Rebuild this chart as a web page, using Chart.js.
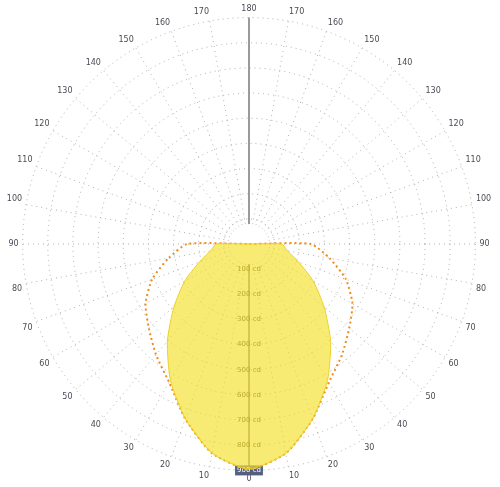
<!DOCTYPE html>
<html>
<head>
<meta charset="utf-8">
<script src="https://cdn.jsdelivr.net/npm/chart.js@4.4.1/dist/chart.umd.min.js"></script>
<style>
  body { margin: 0; background: #fff; }
  #wrap { width: 500px; height: 487px; }
</style>
</head>
<body>
<div id="wrap"><canvas id="polar" width="500" height="487"></canvas></div>
<script>
// angles (gamma) clockwise from the bottom: 0 .. 180 on the left, back to 10 on the right
const angleLabels = ["0", "10", "20", "30", "40", "50", "60", "70", "80", "90",
  "100", "110", "120", "130", "140", "150", "160", "170", "180",
  "170", "160", "150", "140", "130", "120", "110", "100",
  "90", "80", "70", "60", "50", "40", "30", "20", "10"];

// C0 - C180 plane (yellow area), cd
const c0c180 = [895, 845, 740, 625, 505, 390, 295, 210, 155, 130,
  0, 0, 0, 0, 0, 0, 0, 0, 0,
  0, 0, 0, 0, 0, 0, 0, 0,
  130, 155, 210, 295, 390, 505, 625, 740, 845];

// C90 - C270 plane (orange dotted), cd
const c90c270 = [895, 845, 740, 635, 575, 520, 475, 410, 325, 245,
  0, 0, 0, 0, 0, 0, 0, 0, 0,
  0, 0, 0, 0, 0, 0, 0, 0,
  245, 325, 410, 475, 520, 575, 635, 740, 845];

// ring values
const ringMax = 900;
const ringStep = 100;

// white disc in the middle + cd labels down the 0 axis (under the curves)
const centerDisc = {
  id: "centerDisc",
  beforeDatasetsDraw(chart) {
    const s = chart.scales.r;
    const ctx = chart.ctx;
    ctx.save();
    ctx.fillStyle = "#fff";
    ctx.beginPath();
    ctx.arc(s.xCenter, s.yCenter, 20, 0, Math.PI * 2);
    ctx.fill();

    ctx.font = "7px 'DejaVu Sans'";
    ctx.textAlign = "center";
    ctx.textBaseline = "middle";
    const last = s.ticks.length - 1;
    s.ticks.forEach((t, i) => {
      if (t.value === 0) return;
      const y = s.yCenter + s.getDistanceFromCenterForValue(t.value);
      const txt = t.value + " cd";
      if (i === last) {
        const w = ctx.measureText(txt).width;
        ctx.fillStyle = "#56607e";
        ctx.fillRect(s.xCenter - w / 2 - 2, y - 5, w + 4, 10);
        ctx.fillStyle = "#fff";
      } else {
        ctx.fillStyle = "#4a4a3a";
      }
      ctx.fillText(txt, s.xCenter, y);
    });
    ctx.restore();
  }
};

const ctx = document.getElementById("polar").getContext("2d");
new Chart(ctx, {
  type: "radar",
  data: {
    labels: angleLabels,
    datasets: [
      {
        label: "C0 - C180",
        data: c0c180,
        fill: true,
        backgroundColor: "rgba(245, 225, 40, 0.65)",
        borderColor: "rgba(235, 205, 30, 0.9)",
        borderWidth: 1,
        pointRadius: 0,
        tension: 0.2
      },
      {
        label: "C90 - C270",
        data: c90c270,
        fill: false,
        borderColor: "rgba(240, 140, 30, 1)",
        borderWidth: 2,
        borderDash: [2, 3],
        pointRadius: 0,
        tension: 0.2
      }
    ]
  },
  options: {
    responsive: false,
    animation: false,
    layout: { padding: { top: 5, bottom: 2 } },
    plugins: {
      legend: { display: false },
      tooltip: { enabled: false }
    },
    scales: {
      r: {
        min: 0,
        max: ringMax,
        startAngle: 180,
        grid: {
          circular: true,
          color: "#aaaaaa",
          lineWidth: 1
        },
        border: { dash: [1, 4] },
        angleLines: {
          color: (c) => (c.index === 0 || c.index === 18) ? "#9a9a9a" : "#b0b0b0",
          lineWidth: (c) => (c.index === 0 || c.index === 18) ? 2 : 1,
          borderDash: (c) => (c.index === 0 || c.index === 18) ? [] : [1, 4]
        },
        pointLabels: {
          color: "#4a4a55",
          font: { family: "DejaVu Sans", size: 8 },
          padding: 4
        },
        ticks: {
          stepSize: ringStep,
          display: false
        }
      }
    }
  },
  plugins: [centerDisc]
});
</script>
</body>
</html>
